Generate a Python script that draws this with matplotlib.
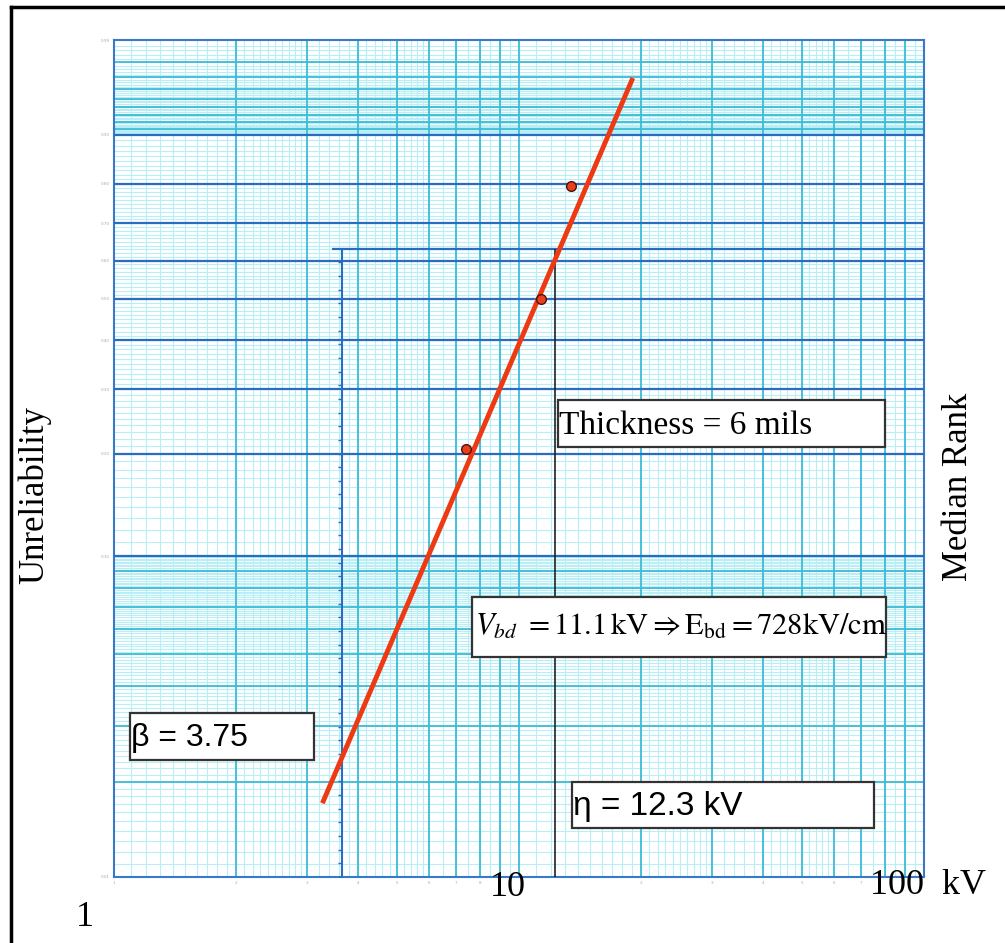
import numpy as np
import matplotlib
matplotlib.use("Agg")
import matplotlib.pyplot as plt
from matplotlib.patches import Rectangle
from matplotlib.lines import Line2D

# breakdown data (kV) and median ranks
volts = [7.40, 11.33, 13.43]
median_rank = [0.2063, 0.5, 0.7937]

# fitted weibull line
fit_kv = [3.27, 19.1]
fit_f = [0.0171, 0.9694]
eta = 12.3
beta_scale_kv = 3.66

y_major = [0.1, 0.2, 0.3, 0.4, 0.5, 0.6, 0.7, 0.8, 0.9]
y_mid = [0.02, 0.03, 0.04, 0.05, 0.06, 0.07, 0.08, 0.09,
         0.91, 0.92, 0.93, 0.94, 0.95, 0.96, 0.97, 0.98]
y_labels = [0.01, 0.1, 0.2, 0.3, 0.4, 0.5, 0.6, 0.7, 0.8, 0.9, 0.99]


def fwd(F):
    F = np.clip(F, 1e-9, 1 - 1e-9)
    return np.log(-np.log(1 - F))


def inv(w):
    return 1 - np.exp(-np.exp(w))


W, H = 1005, 943
fig = plt.figure(figsize=(W / 100, H / 100), dpi=100)
fig.patch.set_facecolor("white")


def fx(px):
    return px / W


def fy(py):
    return 1 - py / H


ax = fig.add_axes([fx(114), fy(877), fx(924) - fx(114), fy(40) - fy(877)])
ax.set_xscale("log")
ax.set_yscale("function", functions=(fwd, inv))
ax.set_xlim(1, 100)
ax.set_ylim(0.01, 0.99)

light = "#b8eef6"
mid = "#3cbcd8"
dark = "#2a6cc0"

# light grid
decade = np.concatenate([np.arange(1.1, 2.95, 0.1), np.arange(3.2, 5.95, 0.2),
                         np.arange(6.5, 9.9, 0.5)])
xs_light = np.concatenate([decade, decade * 10])
ax.vlines(xs_light, 0.01, 0.99, color=light, lw=0.8, zorder=1)
ys_light = np.concatenate([np.arange(0.011, 0.1, 0.001),
                           np.arange(0.11, 0.9, 0.01),
                           np.arange(0.902, 0.99, 0.002)])
ax.hlines(ys_light, 1, 100, color=light, lw=0.8, zorder=1)

# medium grid
xs_mid = [2, 3, 4, 5, 6, 7, 8, 9, 10, 20, 30, 40, 50, 60, 70, 80, 90]
ax.vlines(xs_mid, 0.01, 0.99, color=mid, lw=1.3, zorder=2)
ax.hlines(y_mid, 1, 100, color=mid, lw=1.3, zorder=2)

# dark grid
ax.hlines(y_major, 1, 100, color=dark, lw=1.6, zorder=3)
ax.hlines(0.632, 3.46, 100, color=dark, lw=1.6, zorder=3)

for s in ax.spines.values():
    s.set_color("#3a78c8")
    s.set_linewidth(1.5)

# beta scale line with little ticks
ax.vlines(beta_scale_kv, 0.01, 0.632, color=dark, lw=1.5, zorder=4)
tick_w = -np.arange(1, 47) * 0.1
ax.plot([beta_scale_kv] * len(tick_w), inv(tick_w), ls="none", marker=0,
        ms=3, mew=1.0, color=dark, zorder=4)

# eta line
ax.vlines(eta, 0.01, 0.632, color="#222222", lw=1.2, zorder=5)

# fit and data
ax.plot(fit_kv, fit_f, color="#ee3a12", lw=3.5, zorder=6, solid_capstyle="butt")
ax.plot(volts, median_rank, ls="none", marker="o", ms=7, mfc="#e8401a",
        mec="#501010", mew=1.0, zorder=7)

# tiny tick labels (skip the ones hidden under the big labels)
xt = [d * m for m in (1, 10) for d in range(1, 10)] + [100]
hidden = (9, 10, 80, 90, 100)
ax.set_xticks(xt)
ax.set_xticklabels(["" if v in hidden else str(int(str(int(v))[0])) for v in xt])
ax.set_xticks([], minor=True)
ax.set_yticks(y_labels)
ax.set_yticklabels(["%.2f" % v for v in y_labels])
ax.set_yticks([], minor=True)
ax.tick_params(length=0, labelsize=3, labelcolor="#a8a8a8", pad=3)

# text boxes
serif = ["Liberation Serif", "DejaVu Serif"]
sans = ["Liberation Sans", "DejaVu Sans"]
plt.rcParams["mathtext.fontset"] = "stix"


def box(x0, y0, x1, y1):
    r = Rectangle((fx(x0), fy(y1)), fx(x1) - fx(x0), fy(y0) - fy(y1),
                  transform=fig.transFigure, facecolor="white",
                  edgecolor="#333333", lw=1.6, zorder=10)
    fig.add_artist(r)


box(558, 400, 885, 447)
fig.text(fx(559), fy(426), "Thickness = 6 mils", family=serif, fontsize=24,
         va="center", ha="left", zorder=11)

box(472, 597, 886, 657)
fig.text(fx(475), fy(626),
         r"$V_{bd}\ {=}11.1\,\mathrm{kV} \Rightarrow \mathrm{E}_{\mathrm{bd}} = 728\mathrm{kV/cm}$",
         fontsize=22, va="center", ha="left", zorder=11)

box(130, 713, 314, 760)
fig.text(fx(131), fy(738), "\u03b2 = 3.75", family=sans, fontsize=23,
         va="center", ha="left", zorder=11)

box(572, 782, 874, 828)
fig.text(fx(573), fy(806), "\u03b7 = 12.3 kV", family=sans, fontsize=24,
         va="center", ha="left", zorder=11)

# big axis labels
fig.text(fx(85), fy(917), "1", family=serif, fontsize=26, ha="center", va="center")
fig.text(fx(508), fy(888), "10", family=serif, fontsize=26, ha="center", va="center")
fig.text(fx(928), fy(885), "100  kV", family=serif, fontsize=26, ha="center", va="center")
fig.text(fx(35), fy(495), "Unreliability", family=serif, fontsize=25,
         rotation=90, ha="center", va="center")
fig.text(fx(958), fy(487), "Median Rank", family=serif, fontsize=25,
         rotation=90, ha="center", va="center")

# outer frame (top and left)
fig.add_artist(Line2D([fx(11), 1], [fy(7), fy(7)], color="black", lw=2.5,
                      transform=fig.transFigure))
fig.add_artist(Line2D([fx(11), fx(11)], [fy(7), 0], color="black", lw=2.5,
                      transform=fig.transFigure))

fig.savefig("out.png", dpi=100)
